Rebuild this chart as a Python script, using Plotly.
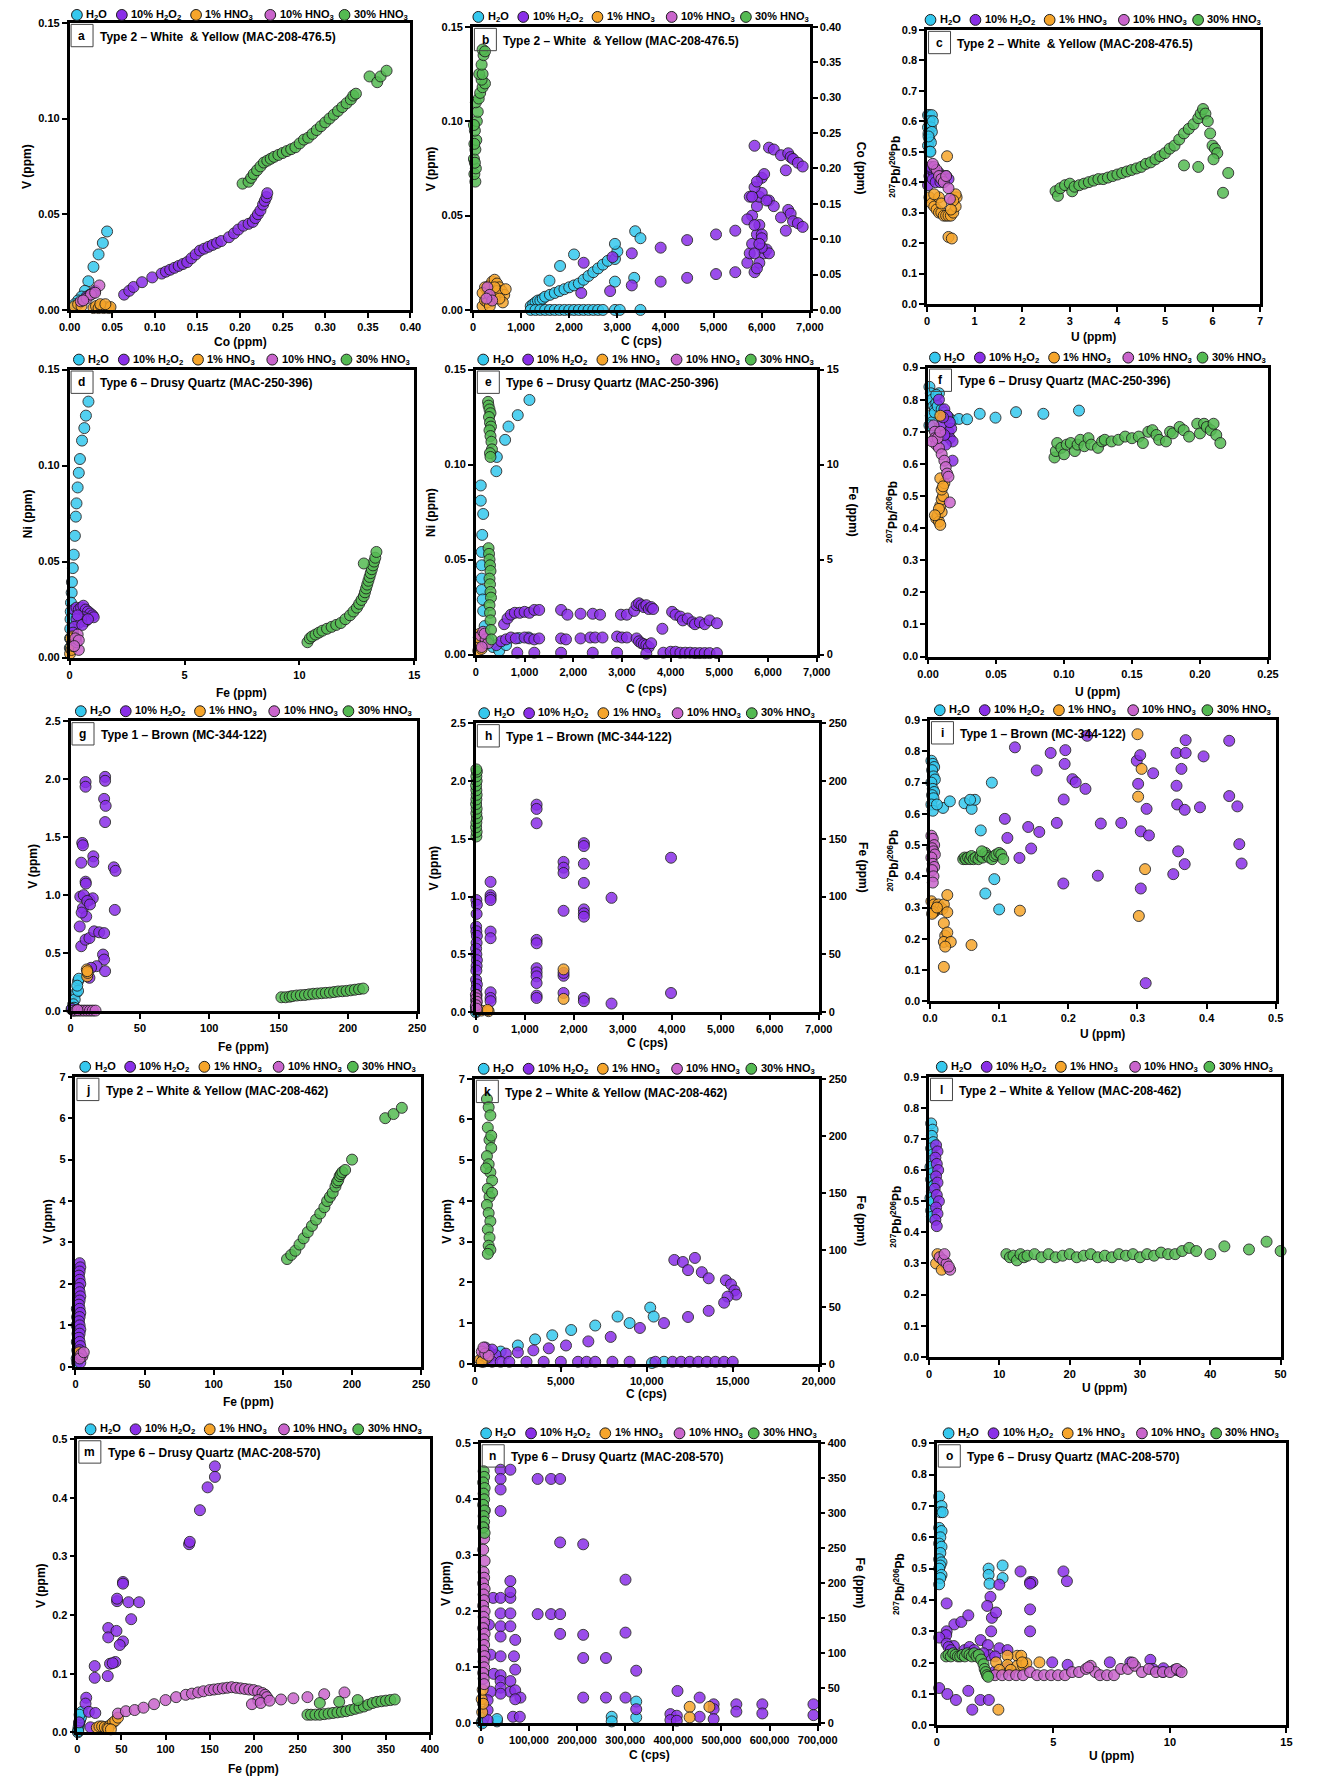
import plotly.graph_objects as go

W, H = 1327, 1783
FONT = "Liberation Sans, Arial, sans-serif"

# ------------------------------------------------------------------ data
SERIES_NAMES = ["H<sub>2</sub>O", "10% H<sub>2</sub>O<sub>2</sub>", "1% HNO<sub>3</sub>",
                "10% HNO<sub>3</sub>", "30% HNO<sub>3</sub>"]

# Panel a : V vs Co
A_H2O_X = [0.044, 0.039, 0.034, 0.028, 0.022, 0.018, 0.014, 0.010, 0.006]
A_H2O_Y = [0.041, 0.035, 0.029, 0.0225, 0.015, 0.010, 0.007, 0.005, 0.003]
A_H2O2_X = [0.064, 0.070, 0.075, 0.085, 0.097, 0.108, 0.113, 0.118, 0.123, 0.128,
            0.133, 0.138, 0.143, 0.148, 0.153, 0.158, 0.163, 0.168, 0.173, 0.178,
            0.187, 0.193, 0.198, 0.204, 0.210, 0.215, 0.218, 0.221, 0.224, 0.227,
            0.229, 0.231, 0.232, 0.020, 0.024, 0.028, 0.030]
A_H2O2_Y = [0.008, 0.010, 0.012, 0.0145, 0.017, 0.019, 0.020, 0.021, 0.022, 0.023,
            0.024, 0.025, 0.027, 0.029, 0.031, 0.032, 0.033, 0.034, 0.035, 0.036,
            0.038, 0.040, 0.042, 0.044, 0.045, 0.046, 0.048, 0.050, 0.052, 0.055,
            0.057, 0.059, 0.061, 0.007, 0.008, 0.009, 0.010]
A_HNO3_1_X = [0.006, 0.010, 0.014, 0.028, 0.031, 0.034, 0.037, 0.040, 0.043, 0.046, 0.048, 0.036, 0.042]
A_HNO3_1_Y = [0.002, 0.003, 0.002, 0.001, 0.002, 0.001, 0.002, 0.001, 0.0015, 0.001, 0.0015, 0.003, 0.003]
A_HNO3_10_X = [0.035, 0.013, 0.020, 0.025, 0.030, 0.016]
A_HNO3_10_Y = [0.0128, 0.0045, 0.006, 0.008, 0.009, 0.005]
A_HNO3_30_X = [0.203, 0.210, 0.213, 0.216, 0.220, 0.224, 0.228, 0.232, 0.236, 0.240,
               0.245, 0.250, 0.255, 0.260, 0.265, 0.270, 0.275, 0.280, 0.285, 0.290,
               0.295, 0.300, 0.305, 0.310, 0.315, 0.320, 0.325, 0.330, 0.333, 0.336,
               0.352, 0.361, 0.365, 0.372]
A_HNO3_30_Y = [0.066, 0.067, 0.069, 0.071, 0.073, 0.075, 0.077, 0.078, 0.079, 0.080,
               0.081, 0.082, 0.083, 0.084, 0.085, 0.087, 0.089, 0.090, 0.092, 0.094,
               0.096, 0.098, 0.100, 0.102, 0.104, 0.106, 0.108, 0.110, 0.112, 0.113,
               0.122, 0.119, 0.122, 0.125]

# Panel b : V / Co vs C
B_H2O_X = [1200, 1250, 1300, 1350, 1400, 1450, 1500, 1600, 1700, 1800,
           1900, 2000, 2100, 2200, 2300, 2400, 2500, 2600, 2700, 2800,
           2950, 3000, 1590, 1810, 2100, 2950, 3370, 3480, 3350, 2950,
           1200, 1300, 1400, 1500, 1600, 1700, 1800, 1900, 2000, 2100,
           2200, 2300, 2400, 2500, 2600, 2700, 2950, 3050, 3480]
B_H2O_Y = [0.002, 0.003, 0.004, 0.005, 0.005, 0.006, 0.007, 0.008, 0.009, 0.010,
           0.011, 0.012, 0.013, 0.014, 0.016, 0.018, 0.020, 0.022, 0.024, 0.026,
           0.027, 0.031, 0.0155, 0.0233, 0.0294, 0.035, 0.0417, 0.038, 0.017, 0.015,
           0, 0, 0, 0, 0, 0, 0, 0, 0, 0, 0, 0, 0, 0, 0, 0, 0, 0, 0]
B_H2O2_X = [2300, 2250, 2850, 2900, 3300, 3300, 3900, 3900, 4450, 4450, 5050, 5050, 5450, 5450,
            5850, 6150, 6250, 6400, 6550, 6600, 6650, 6750, 6850, 6500,
            6000, 6150, 6250, 6400, 6550, 6600, 6650, 6750, 6850, 6500,
            5700, 5750, 5800, 5850, 5900, 5950, 6000, 6050, 6100, 6150,
            5800, 5900, 5950, 6000, 5850, 5900, 6050, 5750, 5700, 5850,
            5950, 6000, 6100, 5800, 5900, 6000, 5850, 5950]
B_H2O2_Y = [0.025, 0.009, 0.010, 0.028, 0.030, 0.013, 0.033, 0.015, 0.037, 0.017, 0.040, 0.019, 0.042, 0.020,
            0.087, 0.086, 0.085, 0.082, 0.083, 0.081, 0.080, 0.078, 0.076, 0.074,
            0.070, 0.058, 0.055, 0.049, 0.053, 0.051, 0.047, 0.046, 0.044, 0.042,
            0.025, 0.030, 0.035, 0.020, 0.040, 0.045, 0.040, 0.030, 0.032, 0.030,
            0.050, 0.055, 0.060, 0.062, 0.065, 0.068, 0.072, 0.060, 0.048, 0.045,
            0.025, 0.033, 0.058, 0.060, 0.022, 0.038, 0.030, 0.035]
B_HNO3_1_X = [200, 250, 300, 350, 400, 450, 500, 550, 600, 650,
              620, 400, 300, 450, 500, 350, 250, 550, 200, 450, 680]
B_HNO3_1_Y = [0.002, 0.005, 0.010, 0.013, 0.015, 0.016, 0.014, 0.012, 0.010, 0.008,
              0.004, 0.008, 0.004, 0.006, 0.010, 0.002, 0.012, 0.006, 0.009, 0.012, 0.011]
B_HNO3_10_X = [300, 350, 400, 280]
B_HNO3_10_Y = [0.012, 0.008, 0.005, 0.006]
B_HNO3_30_X = [50, 30, 60, 20, 50, 70, 40, 80, 100, 60,
               120, 150, 200, 250, 180, 130, 200, 180, 220, 200, 250, 40, 30, 20]
B_HNO3_30_Y = [0.068, 0.072, 0.075, 0.080, 0.085, 0.090, 0.095, 0.100, 0.105, 0.110,
               0.112, 0.115, 0.118, 0.120, 0.122, 0.125, 0.125, 0.130, 0.135, 0.138,
               0.137, 0.078, 0.088, 0.098]

# Panel c : 207Pb/206Pb vs U
C_H2O_X = [0.02, 0.05, 0.10, 0.05, 0.02, 0.08, 0.03, 0.10, 0.05, 0.02, 0.08, 0.05, 0.07, 0.03, 0.12]
C_H2O_Y = [0.62, 0.62, 0.62, 0.60, 0.58, 0.58, 0.56, 0.565, 0.54, 0.52, 0.53, 0.50, 0.50, 0.55, 0.60]
C_H2O2_X = [0.02, 0.05, 0.10, 0.15, 0.20, 0.25, 0.30, 0.35, 0.40, 0.45, 0.08, 0.12, 0.18, 0.28]
C_H2O2_Y = [0.39, 0.42, 0.44, 0.43, 0.42, 0.43, 0.42, 0.41, 0.42, 0.41, 0.45, 0.41, 0.40, 0.40]
C_HNO3_1_X = [0.05, 0.10, 0.15, 0.20, 0.25, 0.30, 0.35, 0.40, 0.45, 0.50, 0.55,
              0.60, 0.62, 0.60, 0.55, 0.25, 0.45, 0.52, 0.42, 0.50, 0.30, 0.15]
C_HNO3_1_Y = [0.35, 0.33, 0.32, 0.31, 0.30, 0.30, 0.29, 0.29, 0.29, 0.29, 0.30,
              0.32, 0.35, 0.36, 0.34, 0.35, 0.22, 0.215, 0.485, 0.31, 0.33, 0.36]
C_HNO3_10_X = [0.15, 0.20, 0.25, 0.30, 0.35, 0.45, 0.48, 0.40, 0.12]
C_HNO3_10_Y = [0.45, 0.44, 0.42, 0.41, 0.40, 0.38, 0.345, 0.42, 0.46]
C_HNO3_30_X = [2.70, 2.75, 2.80, 2.90, 3.00, 3.05, 3.10, 3.20, 3.30, 3.40, 3.50, 3.60, 3.70, 3.80, 3.90,
               4.00, 4.10, 4.20, 4.30, 4.40, 4.50, 4.60, 4.70, 4.80, 4.90, 5.00, 5.10, 5.20, 5.30, 5.40,
               5.50, 5.60, 5.70, 5.75, 5.80, 5.85, 5.90, 5.95, 6.00, 6.05, 6.10, 5.40, 5.70, 6.02, 6.22, 6.33]
C_HNO3_30_Y = [0.37, 0.355, 0.38, 0.39, 0.395, 0.37, 0.385, 0.39, 0.395, 0.40, 0.405, 0.41, 0.41, 0.415, 0.42,
               0.425, 0.43, 0.435, 0.44, 0.445, 0.45, 0.46, 0.465, 0.475, 0.485, 0.495, 0.51, 0.52, 0.54, 0.56,
               0.575, 0.59, 0.61, 0.625, 0.64, 0.625, 0.60, 0.56, 0.52, 0.51, 0.495, 0.455, 0.45, 0.475, 0.365, 0.43]

# Panel d : Ni vs Fe
D_H2O_X = [0.82, 0.71, 0.64, 0.54, 0.45, 0.40, 0.35, 0.30, 0.27, 0.23, 0.18, 0.14, 0.10, 0.09, 0.06, 0.05, 0.04, 0.03, 0.02, 0.01]
D_H2O_Y = [0.1333, 0.126, 0.1195, 0.113, 0.1034, 0.0962, 0.0886, 0.0803, 0.0734, 0.0634,
           0.0536, 0.0466, 0.0393, 0.0338, 0.0286, 0.024, 0.020, 0.015, 0.010, 0.005]
D_H2O2_X = [0.2, 0.3, 0.4, 0.5, 0.6, 0.7, 0.8, 0.9, 1.0, 1.05, 0.6, 0.7, 0.5, 0.4, 0.3, 0.2, 0.15, 0.35, 0.55, 0.8]
D_H2O2_Y = [0.025, 0.026, 0.025, 0.026, 0.027, 0.025, 0.024, 0.023, 0.022, 0.021,
            0.021, 0.019, 0.020, 0.018, 0.020, 0.016, 0.013, 0.022, 0.017, 0.020]
D_HNO3_1_X = [0.02, 0.05, 0.10, 0.12, 0.08, 0.15, 0.20, 0.05]
D_HNO3_1_Y = [0.002, 0.005, 0.008, 0.011, 0.004, 0.006, 0.009, 0.010]
D_HNO3_10_X = [0.4, 0.3, 0.35, 0.25, 0.4, 0.2]
D_HNO3_10_Y = [0.004, 0.008, 0.012, 0.010, 0.009, 0.006]
D_HNO3_30_X = [10.35, 10.45, 10.55, 10.7, 10.85, 11.0, 11.2, 11.4, 11.6, 11.8, 12.0, 12.2, 12.35, 12.5, 12.6,
               12.7, 12.8, 12.85, 12.9, 12.95, 13.0, 13.05, 13.1, 13.15, 13.2, 13.25, 13.3, 13.35, 12.8]
D_HNO3_30_Y = [0.008, 0.010, 0.011, 0.012, 0.013, 0.014, 0.015, 0.016, 0.017, 0.018, 0.020, 0.022, 0.024, 0.026, 0.028,
               0.030, 0.032, 0.034, 0.036, 0.038, 0.040, 0.042, 0.044, 0.046, 0.048, 0.050, 0.052, 0.055, 0.049]

# Panel e : Ni / Fe vs C
E_H2O_X = [1100, 860, 670, 600, 430, 420, 100, 100, 150, 130, 120, 120, 120, 120, 140, 150, 180, 250, 350, 480, 620, 880, 1080]
E_H2O_Y = [0.134, 0.126, 0.12, 0.113, 0.104, 0.0965, 0.089, 0.081, 0.074, 0.063, 0.054, 0.047, 0.040, 0.034,
           0.029, 0.023, 0.015, 0.008, 0.004, 0.002, 0.005, 0.0087, 0.009]
E_H2O2_X = [580, 650, 720, 800, 900, 1000, 1100, 1200, 1300, 1750, 1880, 2150, 2400, 2550, 2980, 3100, 3250, 3300,
            3350, 3400, 3450, 3500, 3550, 3600, 3640, 3830, 4030, 4100, 4200, 4250, 4350, 4450, 4500, 4600, 4700,
            4800, 4950,
            420, 520, 620, 720, 820, 1000, 1100, 1200, 1300, 1750, 1850, 2150, 2350, 2450, 2600, 2900, 3000, 3100,
            3300, 3350, 3400, 3450, 3500, 3550, 3600,
            850, 1200, 1750, 2400, 2900, 3500, 3850, 4000, 4100, 4200, 4300, 4400, 4500, 4600, 4700, 4800, 4950]
E_H2O2_Y = [0.016, 0.019, 0.021, 0.022, 0.022, 0.0225, 0.022, 0.0235, 0.0235, 0.0235, 0.021, 0.0215, 0.0215, 0.021,
            0.021, 0.021, 0.023, 0.026, 0.027, 0.026, 0.025, 0.026, 0.024, 0.025, 0.024, 0.0136, 0.0225, 0.021, 0.020,
            0.018, 0.019, 0.017, 0.016, 0.017, 0.016, 0.018, 0.0165,
            0.005, 0.007, 0.008, 0.009, 0.0085, 0.009, 0.0085, 0.008, 0.0085, 0.0085, 0.008, 0.0085, 0.009, 0.009,
            0.009, 0.0095, 0.009, 0.009, 0.0085, 0.007, 0.006, 0.0055, 0.005, 0.004, 0.006,
            0.001, 0.001, 0.001, 0.001, 0.001, 0.0005, 0.001, 0.0015, 0.0015, 0.001, 0.001, 0.001, 0.0008, 0.0008,
            0.0008, 0.0008, 0.0008]
E_HNO3_1_X = [50, 100, 150, 80, 120, 200, 60]
E_HNO3_1_Y = [0.002, 0.005, 0.008, 0.011, 0.003, 0.006, 0.009]
E_HNO3_10_X = [100, 150, 200, 250, 120, 180]
E_HNO3_10_Y = [0.010, 0.012, 0.008, 0.006, 0.004, 0.011]
E_HNO3_30_X = [250, 260, 280, 300, 270, 290, 310, 280, 300, 320, 330, 290, 300,
               260, 270, 280, 290, 300, 280, 290, 300, 310, 280, 290, 300, 310, 320]
E_HNO3_30_Y = [0.133, 0.131, 0.129, 0.127, 0.125, 0.122, 0.120, 0.118, 0.115, 0.112, 0.108, 0.106, 0.104,
               0.056, 0.053, 0.050, 0.047, 0.044, 0.040, 0.037, 0.033, 0.030, 0.026, 0.022, 0.018, 0.013, 0.008]

# Panel f : 207Pb/206Pb vs U
F_H2O_X = [0.001, 0.002, 0.003, 0.004, 0.005, 0.006, 0.002, 0.003, 0.005, 0.007, 0.008, 0.010, 0.012,
           0.015, 0.018, 0.0227, 0.0287, 0.038, 0.0496, 0.0647, 0.0848, 0.111, 0.004, 0.001, 0.006]
F_H2O_Y = [0.84, 0.82, 0.80, 0.78, 0.77, 0.79, 0.75, 0.73, 0.76, 0.78, 0.82, 0.77, 0.76,
           0.745, 0.735, 0.74, 0.739, 0.756, 0.744, 0.761, 0.756, 0.766, 0.71, 0.72, 0.815]
F_H2O2_X = [0.008, 0.012, 0.014, 0.010, 0.015, 0.016, 0.018, 0.013, 0.017, 0.018, 0.012, 0.016, 0.011]
F_H2O2_Y = [0.80, 0.77, 0.75, 0.72, 0.70, 0.68, 0.67, 0.66, 0.71, 0.61, 0.69, 0.73, 0.745]
F_HNO3_1_X = [0.006, 0.007, 0.008, 0.009, 0.010, 0.009, 0.010, 0.011, 0.010, 0.012, 0.009, 0.011, 0.008, 0.009, 0.005]
F_HNO3_1_Y = [0.43, 0.44, 0.42, 0.41, 0.45, 0.47, 0.49, 0.50, 0.52, 0.54, 0.555, 0.53, 0.46, 0.75, 0.44]
F_HNO3_10_X = [0.004, 0.005, 0.005, 0.006, 0.008, 0.010, 0.012, 0.013, 0.014, 0.015, 0.016, 0.007, 0.009, 0.003]
F_HNO3_10_Y = [0.72, 0.70, 0.68, 0.66, 0.65, 0.63, 0.61, 0.59, 0.57, 0.56, 0.48, 0.68, 0.70, 0.67]
F_HNO3_30_X = [0.093, 0.094, 0.095, 0.098, 0.100, 0.102, 0.105, 0.108, 0.110, 0.112,
               0.115, 0.118, 0.120, 0.125, 0.128, 0.130, 0.135, 0.140, 0.145, 0.150,
               0.155, 0.158, 0.162, 0.165, 0.168, 0.170, 0.175, 0.178, 0.180, 0.185,
               0.188, 0.192, 0.198, 0.200, 0.203, 0.205, 0.208, 0.210, 0.212, 0.215]
F_HNO3_30_Y = [0.62, 0.64, 0.665, 0.65, 0.63, 0.66, 0.665, 0.64, 0.66, 0.675,
               0.655, 0.68, 0.66, 0.65, 0.67, 0.675, 0.67, 0.675, 0.685, 0.68,
               0.685, 0.665, 0.70, 0.705, 0.69, 0.675, 0.67, 0.70, 0.695, 0.715,
               0.705, 0.685, 0.725, 0.695, 0.725, 0.715, 0.705, 0.725, 0.69, 0.665]

# Panel g : V vs Fe
G_H2O_X = [5.4, 4.2, 3.0, 1.9, 0.7, 5.4, 6.0, 4.8, 2.5]
G_H2O_Y = [0.26, 0.16, 0.10, 0.06, 0.017, 0.175, 0.28, 0.22, 0.03]
G_H2O2_X = [10.8, 10.8, 24.9, 24.9, 24.2, 25.3, 24.9, 8.4, 8.9, 7.7, 16.4, 16.4, 31.2, 32.4, 31.9, 10.8, 7.0,
            13.6, 16.0, 8.9, 11.3, 6.6, 7.7, 10.8, 13.6, 17.0, 20.6, 24.2, 23.4, 24.2, 18.8, 14.8, 24.9, 13.6,
            9.5, 12.0, 14.0, 11.0, 8.0, 2.0, 4.0, 1.0]
G_H2O2_Y = [1.975, 1.935, 2.02, 1.986, 1.83, 1.77, 1.63, 1.45, 1.43, 1.28, 1.335, 1.287, 1.24, 1.21, 0.873, 1.116,
            0.987, 0.96, 0.973, 0.888, 0.816, 0.73, 0.56, 0.616, 0.63, 0.688, 0.68, 0.673, 0.488, 0.445, 0.388,
            0.374, 0.345, 0.288, 1.0, 0.95, 0.92, 1.1, 0.85, 0.005, 0.01, 0.02]
G_HNO3_1_X = [11.7, 11.96, 12.4, 12.0]
G_HNO3_1_Y = [0.36, 0.30, 0.33, 0.345]
G_HNO3_10_X = [2, 4, 6, 8, 10, 12, 14, 16, 18, 5]
G_HNO3_10_Y = [0.005, 0.005, 0.005, 0.005, 0.005, 0.005, 0.005, 0.005, 0.005, 0.01]
G_HNO3_30_X = [152, 155, 158, 160, 163, 166, 169, 172, 175, 178, 181, 184, 187, 190, 193, 196, 199, 202, 205, 208, 211]
G_HNO3_30_Y = [0.12, 0.12, 0.125, 0.13, 0.135, 0.138, 0.14, 0.145, 0.15, 0.152, 0.155, 0.158, 0.16, 0.165,
               0.17, 0.172, 0.175, 0.18, 0.185, 0.19, 0.195]

# Panel h : V / Fe vs C
H_H2O_X = [0, 10, 20, 5, 15, 0]
H_H2O_Y = [0.0, 0.02, 0.01, 0.04, 0.03, 0.05]
H_H2O2_X = [10, 20, 15, 5, 10, 20, 15, 5, 10, 20, 15, 10, 5, 20, 10, 15, 5, 10,
            300, 300, 300, 300, 300, 300, 300, 300, 300,
            1240, 1240, 1240, 1240, 1240, 1240, 1240, 1240, 1240, 1240, 1240,
            1790, 1790, 1790, 1790, 1790, 1790, 1790,
            2205, 2205, 2205, 2205, 2205, 2205, 2205, 2205, 2205,
            2770, 2770, 3985, 3985]
H_H2O2_Y = [0.97, 0.93, 0.85, 0.74, 0.70, 0.66, 0.60, 0.55, 0.50, 0.45, 0.40, 0.36, 0.28, 0.24, 0.20, 0.15, 0.10, 0.05,
            1.127, 1.012, 0.99, 0.97, 0.697, 0.64, 0.172, 0.123, 0.095,
            1.795, 1.758, 1.634, 0.625, 0.596, 0.38, 0.344, 0.31, 0.252, 0.143, 0.123,
            1.30, 1.25, 1.204, 0.877, 0.315, 0.166, 0.34,
            1.462, 1.437, 1.284, 1.118, 0.889, 0.855, 0.826, 0.123, 0.095,
            0.989, 0.0745, 1.336, 0.166]
H_HNO3_1_X = [1790, 1790, 110, 260, 240]
H_HNO3_1_Y = [0.37, 0.115, 0.014, 0.009, 0.02]
H_HNO3_10_X = [0, 10, 20, 5, 15]
H_HNO3_10_Y = [0.15, 0.12, 0.09, 0.06, 0.03]
H_HNO3_30_X = [10, 15, 5, 10, 20, 10, 15, 5, 10, 15, 10, 5, 15, 10, 20, 10]
H_HNO3_30_Y = [1.52, 1.56, 1.60, 1.64, 1.68, 1.72, 1.76, 1.80, 1.84, 1.88, 1.92, 1.96, 2.00, 2.04, 2.08, 2.10]

# Panel i : 207Pb/206Pb vs U
I_H2O_X = [0.002, 0.004, 0.006, 0.003, 0.005, 0.007, 0.002, 0.004, 0.006, 0.003, 0.005, 0.002, 0.004,
           0.0188, 0.0287, 0.0499, 0.0602, 0.0649, 0.058, 0.0894, 0.0734, 0.093, 0.08, 0.1, 0.01]
I_H2O_Y = [0.77, 0.76, 0.75, 0.74, 0.72, 0.71, 0.70, 0.68, 0.67, 0.66, 0.65, 0.63, 0.61,
           0.619, 0.64, 0.634, 0.616, 0.645, 0.645, 0.70, 0.547, 0.391, 0.345, 0.294, 0.63]
I_H2O2_X = [0.1228, 0.1745, 0.1957, 0.1947, 0.1543, 0.206, 0.2107, 0.2248, 0.1933, 0.2272,
            0.287, 0.35, 0.299, 0.304, 0.3227, 0.301, 0.3132, 0.3565, 0.3697, 0.3636,
            0.3565, 0.3574, 0.3683, 0.3697, 0.3956, 0.3904, 0.4327, 0.4327, 0.4445, 0.4473,
            0.4506, 0.1082, 0.1119, 0.142, 0.158, 0.1463, 0.1293, 0.1834, 0.247, 0.2766,
            0.3048, 0.3166, 0.3589, 0.3518, 0.3683, 0.2427, 0.1928, 0.3048, 0.3119]
I_H2O2_Y = [0.813, 0.795, 0.804, 0.76, 0.739, 0.711, 0.701, 0.68, 0.646, 0.85,
            0.901, 0.901, 0.77, 0.788, 0.73, 0.696, 0.616, 0.795, 0.795, 0.744,
            0.69, 0.63, 0.613, 0.836, 0.784, 0.621, 0.834, 0.657, 0.624, 0.503,
            0.441, 0.584, 0.523, 0.558, 0.542, 0.489, 0.459, 0.571, 0.569, 0.571,
            0.544, 0.531, 0.48, 0.407, 0.439, 0.402, 0.377, 0.361, 0.058]
I_HNO3_1_X = [0.002, 0.004, 0.006, 0.008, 0.010, 0.012, 0.015, 0.018, 0.020, 0.025,
              0.005, 0.003, 0.010, 0.020, 0.022, 0.025, 0.025, 0.020, 0.030, 0.022,
              0.020, 0.06, 0.13, 0.300, 0.301, 0.306, 0.311, 0.302]
I_HNO3_1_Y = [0.32, 0.30, 0.31, 0.29, 0.30, 0.31, 0.30, 0.295, 0.31, 0.34,
              0.285, 0.28, 0.30, 0.25, 0.21, 0.22, 0.285, 0.19, 0.19, 0.175,
              0.11, 0.18, 0.29, 0.855, 0.655, 0.744, 0.423, 0.273]
I_HNO3_10_X = [0.002, 0.004, 0.006, 0.003, 0.005, 0.007, 0.002, 0.004, 0.006, 0.003, 0.005, 0.004]
I_HNO3_10_Y = [0.53, 0.52, 0.50, 0.49, 0.48, 0.47, 0.46, 0.44, 0.43, 0.42, 0.40, 0.38]
I_HNO3_30_X = [0.048, 0.050, 0.052, 0.055, 0.058, 0.060, 0.063, 0.066, 0.070, 0.073, 0.076,
               0.080, 0.083, 0.086, 0.090, 0.093, 0.096, 0.100, 0.103, 0.106, 0.075]
I_HNO3_30_Y = [0.455, 0.46, 0.455, 0.46, 0.455, 0.465, 0.455, 0.46, 0.455, 0.465, 0.46,
               0.475, 0.465, 0.46, 0.455, 0.465, 0.47, 0.475, 0.47, 0.455, 0.48]

# Panel j : V vs Fe
J_H2O_X = [1.0, 1.2, 0.8, 1.5, 1.0, 1.3, 0.9, 1.2]
J_H2O_Y = [1.4, 1.2, 1.0, 0.8, 0.6, 0.4, 0.2, 0.1]
J_H2O2_X = [3, 3.5, 3, 2.5, 3, 3.5, 2.5, 3, 3.5, 3, 2.5, 3, 3.5, 3, 2.5, 3, 3.5, 3, 2.5, 3, 3.5, 3, 2.5, 3, 3.5]
J_H2O2_Y = [2.5, 2.4, 2.3, 2.2, 2.1, 2.0, 1.9, 1.8, 1.7, 1.6, 1.5, 1.4, 1.3, 1.2, 1.1, 1.0,
            0.9, 0.8, 0.7, 0.6, 0.5, 0.4, 0.3, 0.2, 0.1]
J_HNO3_1_X = [3, 4, 2.5]
J_HNO3_1_Y = [0.3, 0.25, 0.35]
J_HNO3_10_X = [5, 4, 3, 6]
J_HNO3_10_Y = [0.25, 0.3, 0.2, 0.35]
J_HNO3_30_X = [153, 156, 159, 162, 165, 168, 171, 174, 177, 180, 182, 184, 186, 188, 189, 190, 191, 192, 193, 195,
               200, 224, 230, 236]
J_HNO3_30_Y = [2.6, 2.7, 2.8, 2.95, 3.1, 3.25, 3.4, 3.55, 3.7, 3.85, 4.0, 4.1, 4.2, 4.35, 4.45, 4.5, 4.6, 4.65,
               4.7, 4.75, 5.0, 6.0, 6.1, 6.25]

# Panel k : V / Fe vs C
K_H2O_X = [5600, 7000, 8300, 10200, 10400, 9000, 4500, 3500, 2500, 1500, 800, 10300, 11000]
K_H2O_Y = [0.83, 0.94, 1.16, 1.38, 1.16, 1.0, 0.7, 0.6, 0.45, 0.3, 0.15, 0.02, 0.05]
K_H2O2_X = [11600, 12100, 12400, 12800, 13200, 13600, 14600, 14900, 15100, 15200, 14700,
            11000, 12400, 13600, 14500, 9600, 7900, 6600, 5300, 4300, 3400, 2500, 1800, 1200, 800, 600, 1000,
            500, 1000, 1500, 2000, 3000, 4000, 5000, 6000, 6500, 7000, 8000, 9000, 10500, 11500, 12000,
            12500, 13000, 13500, 14000, 14500, 15000]
K_H2O2_Y = [2.55, 2.5, 2.3, 2.6, 2.25, 2.1, 2.05, 1.95, 1.8, 1.7, 1.65,
            1.0, 1.15, 1.3, 1.5, 0.88, 0.66, 0.55, 0.45, 0.38, 0.33, 0.28, 0.25, 0.22, 0.3, 0.4, 0.35,
            0.05, 0.05, 0.05, 0.05, 0.05, 0.05, 0.05, 0.05, 0.05, 0.05, 0.05, 0.05, 0.05, 0.05, 0.05,
            0.05, 0.05, 0.05, 0.05, 0.05, 0.05]
K_HNO3_1_X = [300, 500, 700, 400]
K_HNO3_1_Y = [0.1, 0.2, 0.15, 0.05]
K_HNO3_10_X = [400, 600, 800, 500]
K_HNO3_10_Y = [0.3, 0.25, 0.2, 0.4]
K_HNO3_30_X = [700, 800, 900, 750, 850, 950, 700, 800, 900, 1000, 750, 850, 700, 800, 900, 750, 850, 800, 900,
               750, 1000, 650, 950]
K_HNO3_30_Y = [6.5, 6.3, 6.1, 5.8, 5.5, 5.3, 5.1, 4.9, 4.7, 4.5, 4.3, 4.1, 3.9, 3.7, 3.5, 3.3, 3.1, 2.9, 2.8,
               2.7, 4.2, 4.8, 5.6]

# Panel l : 207Pb/206Pb vs U
L_H2O_X = [0.3, 0.5, 0.4, 0.6, 0.3, 0.5, 0.4, 0.2, 0.5, 0.3, 0.6, 0.4, 0.2, 0.5, 0.3, 0.4, 0.7, 0.6]
L_H2O_Y = [0.75, 0.73, 0.71, 0.69, 0.67, 0.65, 0.63, 0.61, 0.59, 0.57, 0.55, 0.53, 0.51, 0.49, 0.47, 0.45, 0.55, 0.5]
L_H2O2_X = [1.0, 1.2, 0.9, 1.1, 1.3, 1.0, 1.2, 0.8, 1.1, 1.4, 1.0, 1.2, 0.9, 1.1]
L_H2O2_Y = [0.68, 0.66, 0.64, 0.62, 0.60, 0.58, 0.56, 0.54, 0.52, 0.50, 0.48, 0.46, 0.44, 0.42]
L_HNO3_1_X = [1.0, 1.5, 2.0, 2.5, 1.2, 1.8]
L_HNO3_1_Y = [0.30, 0.32, 0.31, 0.29, 0.33, 0.28]
L_HNO3_10_X = [1.5, 2.0, 2.5, 3.0, 2.2, 2.8]
L_HNO3_10_Y = [0.32, 0.31, 0.30, 0.28, 0.33, 0.29]
L_HNO3_30_X = [11, 11.5, 12, 12.5, 13, 13.5, 14, 15, 16, 17, 18, 19, 20, 21, 22, 23, 24, 25, 26, 27, 28, 29, 30,
               31, 32, 33, 34, 35, 36, 37, 38, 40, 42, 45.5, 48, 50]
L_HNO3_30_Y = [0.33, 0.32, 0.325, 0.31, 0.33, 0.32, 0.325, 0.33, 0.32, 0.33, 0.32, 0.325, 0.33, 0.32, 0.325,
               0.33, 0.32, 0.325, 0.32, 0.33, 0.325, 0.33, 0.32, 0.33, 0.325, 0.335, 0.33, 0.33, 0.34, 0.35,
               0.34, 0.33, 0.355, 0.345, 0.37, 0.34]

# Panel m : V vs Fe
M_H2O_X = [0.5, 1, 1.5, 2, 3, 4, 5, 2.5, 1]
M_H2O_Y = [0.0, 0.005, 0.01, 0.015, 0.02, 0.025, 0.035, 0.03, 0.002]
M_H2O2_X = [156, 156, 147.7, 139, 126.7, 127.5, 51.7, 51.7, 45, 58, 70, 61, 35, 35, 44.3, 51.7, 48, 37, 43,
            34.4, 19.6, 19.6, 10, 9.2, 13, 20.3, 1.8, 14.8, 40, 45]
M_H2O2_Y = [0.4538, 0.4358, 0.418, 0.379, 0.321, 0.325, 0.2565, 0.2537, 0.2238, 0.222, 0.222, 0.193, 0.178,
            0.162, 0.173, 0.155, 0.149, 0.117, 0.12, 0.096, 0.113, 0.093, 0.059, 0.049, 0.035, 0.033, 0.017,
            0.0085, 0.118, 0.228]
M_HNO3_1_X = [22, 25, 28, 31, 34, 37, 40, 43, 46, 35, 38]
M_HNO3_1_Y = [0.008, 0.010, 0.010, 0.009, 0.008, 0.012, 0.016, 0.020, 0.025, 0.006, 0.005]
M_HNO3_10_X = [46, 55, 65, 75, 87, 100, 112, 123, 130, 137, 143, 150, 155, 160, 165, 170, 175, 180, 185, 190,
               195, 200, 205, 210, 213, 215, 205, 198, 208, 218, 231, 245, 261, 280, 303]
M_HNO3_10_Y = [0.032, 0.036, 0.038, 0.042, 0.048, 0.055, 0.060, 0.064, 0.066, 0.068, 0.070, 0.072, 0.073, 0.074,
               0.075, 0.076, 0.077, 0.076, 0.075, 0.074, 0.073, 0.072, 0.070, 0.067, 0.064, 0.060, 0.055, 0.048,
               0.050, 0.054, 0.056, 0.058, 0.060, 0.065, 0.068]
M_HNO3_30_X = [261, 265, 270, 275, 280, 285, 290, 295, 300, 305, 310, 315, 320, 325, 330, 335, 340, 345, 350,
               355, 360, 275, 297, 318]
M_HNO3_30_Y = [0.030, 0.030, 0.030, 0.030, 0.031, 0.032, 0.033, 0.034, 0.035, 0.036, 0.038, 0.040, 0.042, 0.044,
               0.047, 0.050, 0.052, 0.053, 0.054, 0.055, 0.056, 0.050, 0.052, 0.055]

# Panel n : V / Fe vs C
N_H2O_X = [323000, 323000, 272000, 272000, 33800, 33800, 2000, 4000, 6000, 3000]
N_H2O_Y = [0.0389, 0.0106, 0.0118, 0.0035, 0.0035, 0.0077, 0.002, 0.005, 0.01, 0.0]
N_H2O2_X = [41200, 61500, 41200, 41200, 41200, 118200, 146000, 164900, 164900, 212800,
            300700, 61500, 25700, 41200, 61500, 61500, 41200, 61500, 118200, 146000,
            164900, 41200, 61500, 41200, 71600, 164900, 212800, 300700, 16900, 20300,
            41200, 69000, 212800, 260100, 27000, 41200, 71600, 323000, 41200, 61500,
            41200, 61500, 41200, 71600, 82400, 71600, 20300, 14200, 212800, 260100,
            300700, 66900, 81100, 14200, 323000, 408700, 454700, 483800, 483800, 531000,
            531000, 585000, 585000, 691200, 691200, 394000, 407300, 394000, 407300, 454700,
            483800, 14200]
N_H2O2_Y = [0.4528, 0.4528, 0.4363, 0.4175, 0.379, 0.4363, 0.4363, 0.4363, 0.323, 0.3196,
            0.2565, 0.254, 0.224, 0.224, 0.224, 0.2347, 0.1963, 0.1963, 0.195, 0.195,
            0.195, 0.1733, 0.1733, 0.155, 0.149, 0.1597, 0.158, 0.162, 0.176, 0.1226,
            0.1197, 0.1197, 0.1167, 0.1167, 0.0884, 0.086, 0.096, 0.094, 0.0755, 0.0755,
            0.0637, 0.0566, 0.053, 0.059, 0.046, 0.043, 0.0566, 0.0413, 0.046, 0.046,
            0.046, 0.0118, 0.0118, 0.0236, 0.0253, 0.0578, 0.046, 0.034, 0.0253, 0.034,
            0.021, 0.034, 0.0177, 0.034, 0.0147, 0.0165, 0.0136, 0.0059, 0.0047, 0.0118,
            0.0077, 0.0059]
N_HNO3_1_X = [434000, 434000, 475000, 2000, 4000, 3000, 5000]
N_HNO3_1_Y = [0.0295, 0.0106, 0.0295, 0.043, 0.06, 0.02, 0.035]
N_HNO3_10_X = [8000, 6000, 7000, 5000, 8000, 6000, 7000, 5000, 8000, 6000, 7000, 5000, 8000,
               6000, 7000, 5000, 8000, 6000, 7000, 5000, 8000, 6000, 7000, 5000, 6000, 7000]
N_HNO3_10_Y = [0.38, 0.35, 0.33, 0.31, 0.29, 0.27, 0.26, 0.25, 0.24, 0.23, 0.22, 0.21, 0.20,
               0.19, 0.18, 0.17, 0.16, 0.15, 0.14, 0.13, 0.12, 0.11, 0.10, 0.09, 0.08, 0.07]
N_HNO3_30_X = [6000, 7000, 5000, 8000, 6000, 7000, 5000, 8000, 6000, 7000, 5000, 8000]
N_HNO3_30_Y = [0.45, 0.44, 0.43, 0.42, 0.41, 0.40, 0.39, 0.38, 0.37, 0.36, 0.35, 0.34]

# Panel o : 207Pb/206Pb vs U
O_H2O_X = [0.1, 0.2, 0.15, 0.1, 0.2, 0.15, 0.1, 0.2, 0.15, 0.1, 0.2, 0.15, 0.1, 0.2, 0.15, 0.1,
           2.82, 2.82, 2.22, 2.22, 2.26, 0.25]
O_H2O_Y = [0.73, 0.70, 0.68, 0.63, 0.62, 0.60, 0.58, 0.57, 0.55, 0.53, 0.52, 0.51, 0.50, 0.48, 0.47, 0.45,
           0.51, 0.47, 0.50, 0.48, 0.452, 0.68]
O_H2O2_X = [3.59, 4.0, 4.1, 4.0, 4.0, 4.0, 5.43, 5.58, 2.68, 2.3,
            2.16, 2.36, 2.54, 2.33, 0.42, 0.75, 1.05, 1.35, 0.42, 0.40,
            0.1, 0.42, 0.73, 0.1, 0.45, 0.82, 1.35, 1.52, 1.87, 2.23,
            1.88, 2.19, 2.68, 3.03, 2.26, 1.7, 1.19, 2.47, 3.03, 4.95,
            5.61, 7.42, 8.3, 9.16, 9.27, 9.7, 10.2, 10.4, 9.72,
            1.4, 1.6, 2.0, 2.5, 0.5, 0.6]
O_H2O2_Y = [0.491, 0.457, 0.457, 0.452, 0.37, 0.3, 0.491, 0.46, 0.449, 0.41,
            0.381, 0.343, 0.36, 0.3, 0.389, 0.322, 0.33, 0.351, 0.3, 0.288,
            0.28, 0.261, 0.253, 0.119, 0.1, 0.081, 0.11, 0.05, 0.081, 0.081,
            0.272, 0.256, 0.246, 0.24, 0.224, 0.224, 0.24, 0.171, 0.184, 0.201,
            0.193, 0.201, 0.201, 0.209, 0.18, 0.171, 0.177, 0.174, 0.182,
            0.25, 0.24, 0.23, 0.22, 0.25, 0.24]
O_HNO3_1_X = [3.45, 3.62, 4.4, 3.03, 2.54, 3.03, 3.45, 3.7, 2.64, 2.68, 3.17, 3.84, 3.66]
O_HNO3_1_Y = [0.222, 0.222, 0.201, 0.222, 0.201, 0.193, 0.19, 0.19, 0.05, 0.177, 0.177, 0.198, 0.201]
O_HNO3_10_X = [2.5, 2.8, 3.1, 3.4, 3.7, 4.0, 4.3, 4.6, 4.9, 5.2, 5.5, 5.8, 6.1, 6.4, 6.6, 6.8, 7.0, 7.3, 7.6,
               7.9, 8.2, 8.5, 8.8, 9.1, 9.4, 9.7, 10.0, 10.3, 10.5, 8.4, 6.5]
O_HNO3_10_Y = [0.16, 0.16, 0.16, 0.16, 0.16, 0.17, 0.16, 0.16, 0.16, 0.16, 0.16, 0.17, 0.17, 0.18, 0.19, 0.17,
               0.16, 0.16, 0.16, 0.18, 0.18, 0.19, 0.17, 0.18, 0.17, 0.17, 0.17, 0.18, 0.17, 0.20, 0.185]
O_HNO3_30_X = [0.4, 0.5, 0.6, 0.7, 0.8, 0.9, 1.0, 1.1, 1.2, 1.3, 1.4, 1.5, 1.6, 1.7, 1.8, 1.9, 2.0, 2.05, 2.1, 2.15, 2.2]
O_HNO3_30_Y = [0.22, 0.225, 0.22, 0.23, 0.225, 0.22, 0.22, 0.225, 0.22, 0.23, 0.225, 0.22, 0.23, 0.22, 0.225,
               0.21, 0.195, 0.18, 0.17, 0.16, 0.155]

PANEL_DATA = {
    'a': [(A_H2O_X, A_H2O_Y), (A_H2O2_X, A_H2O2_Y), (A_HNO3_1_X, A_HNO3_1_Y), (A_HNO3_10_X, A_HNO3_10_Y), (A_HNO3_30_X, A_HNO3_30_Y)],
    'b': [(B_H2O_X, B_H2O_Y), (B_H2O2_X, B_H2O2_Y), (B_HNO3_1_X, B_HNO3_1_Y), (B_HNO3_10_X, B_HNO3_10_Y), (B_HNO3_30_X, B_HNO3_30_Y)],
    'c': [(C_H2O_X, C_H2O_Y), (C_H2O2_X, C_H2O2_Y), (C_HNO3_1_X, C_HNO3_1_Y), (C_HNO3_10_X, C_HNO3_10_Y), (C_HNO3_30_X, C_HNO3_30_Y)],
    'd': [(D_H2O_X, D_H2O_Y), (D_H2O2_X, D_H2O2_Y), (D_HNO3_1_X, D_HNO3_1_Y), (D_HNO3_10_X, D_HNO3_10_Y), (D_HNO3_30_X, D_HNO3_30_Y)],
    'e': [(E_H2O_X, E_H2O_Y), (E_H2O2_X, E_H2O2_Y), (E_HNO3_1_X, E_HNO3_1_Y), (E_HNO3_10_X, E_HNO3_10_Y), (E_HNO3_30_X, E_HNO3_30_Y)],
    'f': [(F_H2O_X, F_H2O_Y), (F_H2O2_X, F_H2O2_Y), (F_HNO3_1_X, F_HNO3_1_Y), (F_HNO3_10_X, F_HNO3_10_Y), (F_HNO3_30_X, F_HNO3_30_Y)],
    'g': [(G_H2O_X, G_H2O_Y), (G_H2O2_X, G_H2O2_Y), (G_HNO3_1_X, G_HNO3_1_Y), (G_HNO3_10_X, G_HNO3_10_Y), (G_HNO3_30_X, G_HNO3_30_Y)],
    'h': [(H_H2O_X, H_H2O_Y), (H_H2O2_X, H_H2O2_Y), (H_HNO3_1_X, H_HNO3_1_Y), (H_HNO3_10_X, H_HNO3_10_Y), (H_HNO3_30_X, H_HNO3_30_Y)],
    'i': [(I_H2O_X, I_H2O_Y), (I_H2O2_X, I_H2O2_Y), (I_HNO3_1_X, I_HNO3_1_Y), (I_HNO3_10_X, I_HNO3_10_Y), (I_HNO3_30_X, I_HNO3_30_Y)],
    'j': [(J_H2O_X, J_H2O_Y), (J_H2O2_X, J_H2O2_Y), (J_HNO3_1_X, J_HNO3_1_Y), (J_HNO3_10_X, J_HNO3_10_Y), (J_HNO3_30_X, J_HNO3_30_Y)],
    'k': [(K_H2O_X, K_H2O_Y), (K_H2O2_X, K_H2O2_Y), (K_HNO3_1_X, K_HNO3_1_Y), (K_HNO3_10_X, K_HNO3_10_Y), (K_HNO3_30_X, K_HNO3_30_Y)],
    'l': [(L_H2O_X, L_H2O_Y), (L_H2O2_X, L_H2O2_Y), (L_HNO3_1_X, L_HNO3_1_Y), (L_HNO3_10_X, L_HNO3_10_Y), (L_HNO3_30_X, L_HNO3_30_Y)],
    'm': [(M_H2O_X, M_H2O_Y), (M_H2O2_X, M_H2O2_Y), (M_HNO3_1_X, M_HNO3_1_Y), (M_HNO3_10_X, M_HNO3_10_Y), (M_HNO3_30_X, M_HNO3_30_Y)],
    'n': [(N_H2O_X, N_H2O_Y), (N_H2O2_X, N_H2O2_Y), (N_HNO3_1_X, N_HNO3_1_Y), (N_HNO3_10_X, N_HNO3_10_Y), (N_HNO3_30_X, N_HNO3_30_Y)],
    'o': [(O_H2O_X, O_H2O_Y), (O_H2O2_X, O_H2O2_Y), (O_HNO3_1_X, O_HNO3_1_Y), (O_HNO3_10_X, O_HNO3_10_Y), (O_HNO3_30_X, O_HNO3_30_Y)],
}

# ------------------------------------------------------------------ layout / style
COLORS = ["#35c8ee", "#8a2fe8", "#f6a52b", "#c964cc", "#54ba52"]
T2A = "Type 2 – White  &amp; Yellow (MAC-208-476.5)"
T6A = "Type 6 – Drusy Quartz (MAC-250-396)"
T1 = "Type 1 – Brown (MC-344-122)"
T2B = "Type 2 – White &amp; Yellow (MAC-208-462)"
T6B = "Type 6 – Drusy Quartz (MAC-208-570)"
PB = "<sup>207</sup>Pb/<sup>206</sup>Pb"

PANELS = [
    dict(k='a', box=(60, 17, 409, 306), xr=(0, 0.4), xd=0.05, xf='.2f', yr=(0, 0.15), yd=0.05, yf='.2f',
         xt='Co (ppm)', yt='V (ppm)', ti=T2A, yo=43, xo=32),
    dict(k='b', box=(473, 21, 818, 306), xr=(0, 7000), xd=1000, xf=',', yr=(0, 0.15), yd=0.05, yf='.2f',
         xt='C (cps)', yt='V (ppm)', ti=T2A, yo=43, xo=31, rr=(0, 0.4), rd=0.05, rf='.2f', rt='Co (ppm)', ro=52),
    dict(k='c', box=(938, 24, 1279, 300), xr=(0, 7), xd=1, xf='d', yr=(0, 0.9), yd=0.1, yf='.1f',
         xt='U (ppm)', yt=PB, ti=T2A, yo=33, xo=33),
    dict(k='d', box=(60, 366, 413, 656), xr=(0, 15), xd=5, xf='d', yr=(0, 0.15), yd=0.05, yf='.2f',
         xt='Fe (ppm)', yt='Ni (ppm)', ti=T6A, yo=43, xo=36),
    dict(k='e', box=(476, 366, 825, 653), xr=(0, 7000), xd=1000, xf=',', yr=(0, 0.15), yd=0.05, yf='.2f',
         xt='C (cps)', yt='Ni (ppm)', ti=T6A, yo=46, xo=35, rr=(0, 15), rd=5, rf='d', rt='Fe (ppm)', ro=37),
    dict(k='f', box=(939, 364, 1287, 655), xr=(0, 0.25), xd=0.05, xf='.2f', yr=(0, 0.9), yd=0.1, yf='.1f',
         xt='U (ppm)', yt=PB, ti=T6A, yo=37, xo=36),
    dict(k='g', box=(61, 720, 416, 1012), xr=(0, 250), xd=50, xf='d', yr=(0, 2.5), yd=0.5, yf='.1f',
         xt='Fe (ppm)', yt='V (ppm)', ti=T1, yo=38, xo=36),
    dict(k='h', box=(476, 722, 827, 1013), xr=(0, 7000), xd=1000, xf=',', yr=(0, 2.5), yd=0.5, yf='.1f',
         xt='C (cps)', yt='V (ppm)', ti=T1, yo=43, xo=31, rr=(0, 250), rd=50, rf='d', rt='Fe (ppm)', ro=46),
    dict(k='i', box=(941, 719, 1295, 1002), xr=(0, 0.5), xd=0.1, xf='.1f', yr=(0, 0.9), yd=0.1, yf='.1f',
         xt='U (ppm)', yt=PB, ti=T1, yo=38, xo=33),
    dict(k='j', box=(66, 1078, 420, 1370), xr=(0, 250), xd=50, xf='d', yr=(0, 7), yd=1, yf='d',
         xt='Fe (ppm)', yt='V (ppm)', ti=T2B, yo=28, xo=35),
    dict(k='k', box=(475, 1080, 827, 1367), xr=(0, 20000), xd=5000, xf=',', yr=(0, 7), yd=1, yf='d',
         xt='C (cps)', yt='V (ppm)', ti=T2B, yo=28, xo=30, rr=(0, 250), rd=50, rf='d', rt='Fe (ppm)', ro=43),
    dict(k='l', box=(940, 1078, 1300, 1360), xr=(0, 50), xd=10, xf='d', yr=(0, 0.9), yd=0.1, yf='.1f',
         xt='U (ppm)', yt=PB, ti=T2B, yo=34, xo=31),
    dict(k='m', box=(68, 1443, 429, 1738), xr=(0, 400), xd=50, xf='d', yr=(0, 0.5), yd=0.1, yf='.1f',
         xt='Fe (ppm)', yt='V (ppm)', ti=T6B, yo=37, xo=37),
    dict(k='n', box=(481, 1447, 826, 1729), xr=(0, 700000), xd=100000, xf=',', yr=(0, 0.5), yd=0.1, yf='.1f',
         xt='C (cps)', yt='V (ppm)', ti=T6B, yo=35, xo=32, rr=(0, 400), rd=50, rf='d', rt='Fe (ppm)', ro=43),
    dict(k='o', box=(948, 1447, 1306, 1731), xr=(0, 15), xd=5, xf='d', yr=(0, 0.9), yd=0.1, yf='.1f',
         xt='U (ppm)', yt=PB, ti=T6B, yo=38, xo=31),
]


def px(x):
    return x / W


def py(y):
    return 1 - y / H


TICKFONT = dict(family=FONT, size=11, color='black', weight='bold')


def axis_style(**kw):
    d = dict(showline=True, linecolor='black', linewidth=2.5, ticks='outside', ticklen=5,
             tickwidth=1.5, tickcolor='black', showgrid=False, zeroline=False,
             tickfont=TICKFONT, fixedrange=True, tick0=0)
    d.update(kw)
    return d


fig = go.Figure()
layout = dict(width=W, height=H, margin=dict(l=0, r=0, t=0, b=0), autosize=False,
              paper_bgcolor='white', plot_bgcolor='white', showlegend=False)
shapes, annots = [], []


def annot(x, y, text, size=12, xanchor='center', yanchor='middle', angle=0):
    annots.append(dict(x=px(x), y=py(y), xref='paper', yref='paper', text=text, showarrow=False,
                       xanchor=xanchor, yanchor=yanchor, textangle=angle,
                       font=dict(family=FONT, size=size, color='black', weight='bold')))


right_idx = 16
for i, P in enumerate(PANELS, start=1):
    L, T, R, B = P['box']
    xname = 'xaxis' if i == 1 else f'xaxis{i}'
    yname = 'yaxis' if i == 1 else f'yaxis{i}'
    xref = 'x' if i == 1 else f'x{i}'
    yref = 'y' if i == 1 else f'y{i}'
    layout[xname] = axis_style(domain=[px(L), px(R)], anchor=yref, range=list(P['xr']),
                               dtick=P['xd'], tickformat=P['xf'], mirror=True)
    layout[yname] = axis_style(domain=[py(B), py(T)], anchor=xref, range=list(P['yr']),
                               dtick=P['yd'], tickformat=P['yf'], mirror=True)

    for j, (xs, ys) in enumerate(PANEL_DATA[P['k']]):
        fig.add_trace(go.Scatter(
            x=xs, y=ys, mode='markers', xaxis=xref, yaxis=yref, cliponaxis=False,
            name=SERIES_NAMES[j], hoverinfo='skip',
            marker=dict(size=11, color=COLORS[j], opacity=0.85,
                        line=dict(color='#1c1c1c', width=1))))

    if 'rr' in P:
        rname = f'yaxis{right_idx}'
        rref = f'y{right_idx}'
        layout[rname] = axis_style(overlaying=yref, anchor=xref, side='right', range=list(P['rr']),
                                   dtick=P['rd'], tickformat=P['rf'])
        fig.add_trace(go.Scatter(x=[], y=[], xaxis=xref, yaxis=rref, mode='markers', hoverinfo='skip'))
        annot(R + P['ro'], (T + B) / 2, P['rt'], angle=90)
        right_idx += 1

    # label box and title
    shapes.append(dict(type='rect', xref='paper', yref='paper', x0=px(L + 1.5), x1=px(L + 24),
                       y0=py(T + 24), y1=py(T + 1.5), line=dict(color='#444', width=1)))
    annot(L + 12.5, T + 13, P['k'], size=12)
    annot(L + 29, T + 14, P['ti'], size=12, xanchor='left')

    # axis titles
    annot((L + R) / 2, B + P['xo'], P['xt'])
    annot(L - P['yo'], (T + B) / 2, P['yt'], angle=-90)

    # legend above each panel
    cy = max(T - 10, 9)
    start = (L + R) / 2 - 172
    for j, off in enumerate([5, 51, 127, 203, 279]):
        cx = start + off
        shapes.append(dict(type='circle', xref='paper', yref='paper',
                           x0=px(cx - 5.5), x1=px(cx + 5.5), y0=py(cy + 5.5), y1=py(cy - 5.5),
                           fillcolor=COLORS[j], line=dict(color='#1c1c1c', width=1)))
        annot(cx + 7.5, cy, SERIES_NAMES[j], size=11, xanchor='left')

layout['shapes'] = shapes
layout['annotations'] = annots
fig.update_layout(**layout)
fig.write_html("out.html")
